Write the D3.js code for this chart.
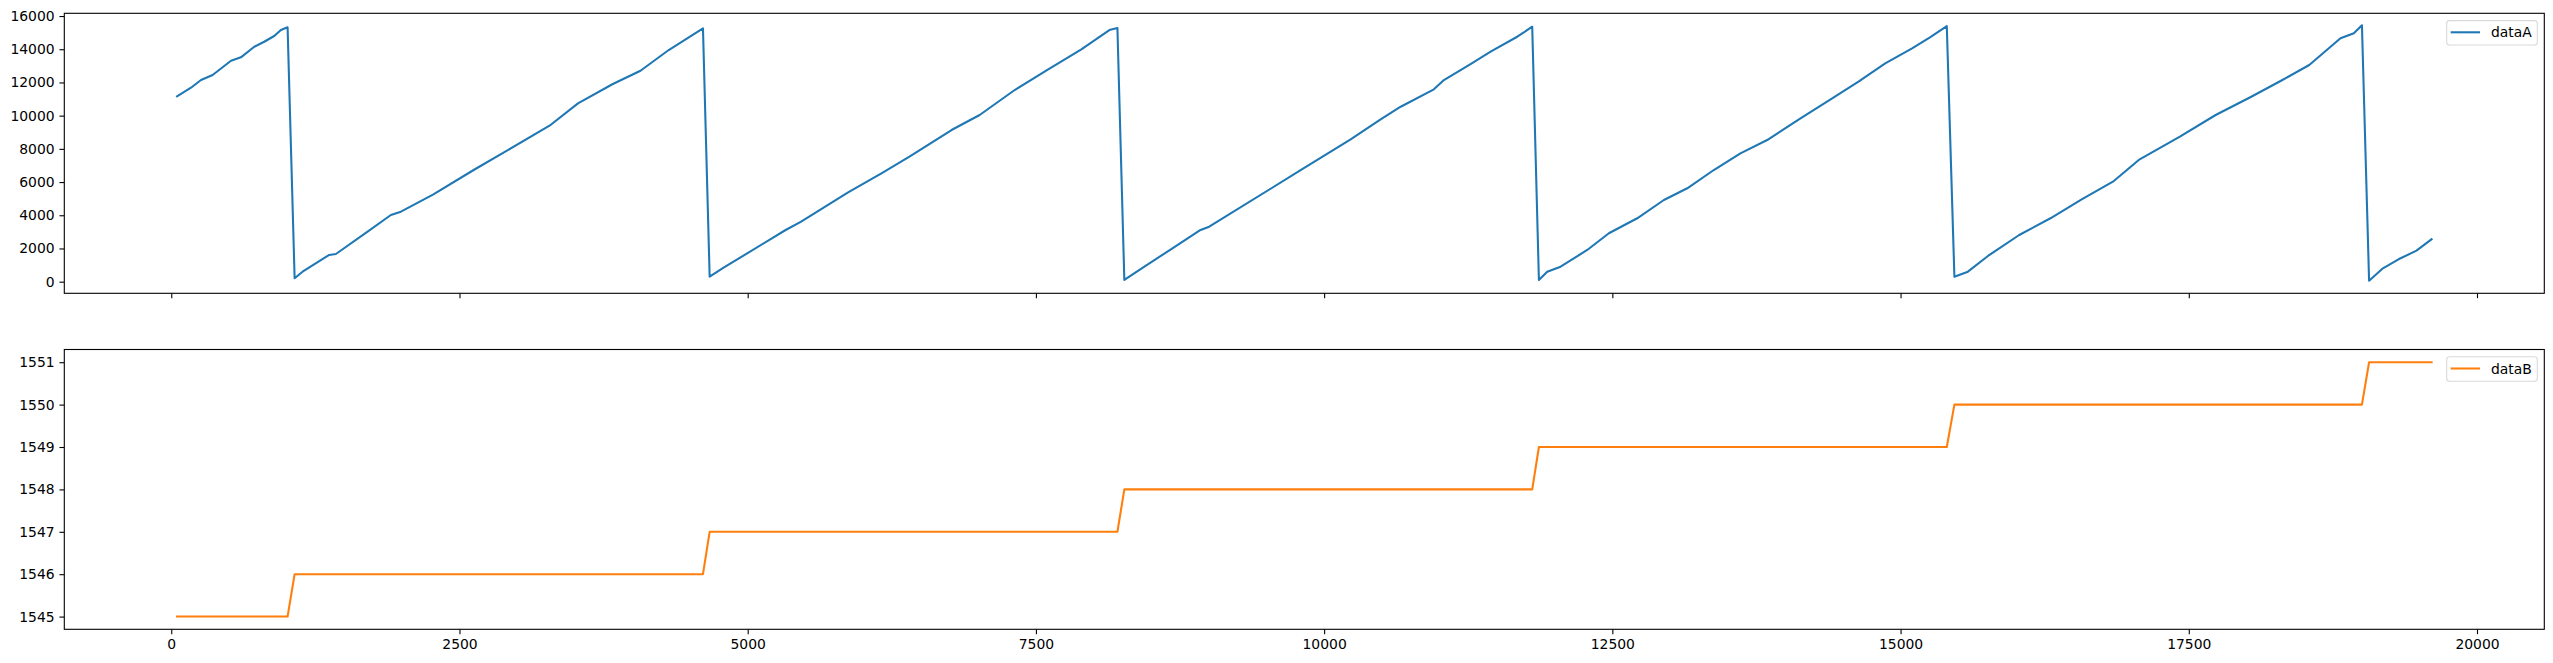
<!DOCTYPE html>
<html>
<head>
<meta charset="utf-8">
<script src="https://cdn.jsdelivr.net/npm/d3@7"></script>
<style>
  html, body { margin: 0; padding: 0; background: #fff; }
  svg { display: block; }
  text { font-family: "DejaVu Sans", sans-serif; }
</style>
</head>
<body>
<svg id="chart" width="2553" height="663"></svg>
<script>
// ---- data ----
const seriesNames = ["dataA", "dataB"];
const xA = [50, 171, 258, 359, 518, 604, 720, 806, 893, 951, 1009,
  1070, 1139, 1370, 1428, 1703, 1905, 1992, 2270, 2623, 2882, 3281, 3528, 3830, 4070, 4315, 4612,
  4670, 4791, 5329, 5460, 5871, 6160, 6403, 6768, 7012, 7316, 7589, 7894, 8137, 8207,
  8267, 8441, 8684, 8928, 9003, 9796, 10230, 10490, 10664, 10952, 11039, 11270, 11444, 11675, 11805,
  11863, 11935, 12051, 12282, 12470, 12716, 12947, 13150, 13380, 13611, 13843, 14132, 14383, 14635, 14867, 15100, 15255, 15401,
  15467, 15584, 15758, 16029, 16300, 16571, 16842, 17074, 17423, 17733, 18042, 18312, 18545, 18816, 18932, 19002,
  19064, 19184, 19319, 19475, 19606];
const yA = [11165, 11683, 12146, 12447, 13309, 13513, 14152, 14453, 14796, 15157, 15320,
  205, 602, 1608, 1668, 3011, 4017, 4215, 5239, 6726, 7769, 9394, 10743, 11906, 12706, 13953, 15260,
  301, 843, 3113, 3600, 5384, 6528, 7528, 9135, 10039, 11544, 12706, 13995, 15157, 15278,
  102, 903, 2011, 3113, 3312, 6714, 8575, 9780, 10538, 11586, 12146, 13110, 13851, 14754, 15356,
  102, 602, 903, 1909, 2915, 3818, 4920, 5625, 6726, 7732, 8533, 9840, 10942, 12044, 13152, 14055, 14718, 15398,
  301, 602, 1548, 2812, 3818, 4962, 6022, 7371, 8732, 10039, 11141, 12146, 13050, 14658, 14959, 15441,
  60, 807, 1349, 1867, 2553];
const xB = [50, 1009, 1070, 4612, 4670, 8207, 8267, 11805, 11863, 15401, 15467, 19002, 19064, 19606];
const yB = [1545, 1545, 1546, 1546, 1547, 1547, 1548, 1548, 1549, 1549, 1550, 1550, 1551, 1551];
const xTicks = [0, 2500, 5000, 7500, 10000, 12500, 15000, 17500, 20000];
const yTicksA = [0, 2000, 4000, 6000, 8000, 10000, 12000, 14000, 16000];
const yTicksB = [1545, 1546, 1547, 1548, 1549, 1550, 1551];
const colors = ["#1f77b4", "#ff7f0e"];

// ---- layout ----
const W = 2553, H = 663;
const left = 64.3, right = 2544.3;
const panels = [
  { top: 13.3, bottom: 293.3, xs: xA, ys: yA, ticks: yTicksA, yDomain: [-700, 16165], showX: false, name: seriesNames[0], color: colors[0] },
  { top: 349.5, bottom: 629.3, xs: xB, ys: yB, ticks: yTicksB, yDomain: [1544.7, 1551.3], showX: true, name: seriesNames[1], color: colors[1] }
];

const svg = d3.select("#chart");
const fs = 13.9;
const allX = xA.concat(xB);
const xmin = d3.min(allX), xmax = d3.max(allX), xr = xmax - xmin;
const x = d3.scaleLinear().domain([xmin - 0.05 * xr, xmax + 0.05 * xr]).range([left, right]);

panels.forEach(p => {
  const y = d3.scaleLinear().domain(p.yDomain).range([p.bottom, p.top]);
  const g = svg.append("g");

  // line
  const pts = p.xs.map((v, i) => [v, p.ys[i]]);
  g.append("path")
    .datum(pts)
    .attr("fill", "none")
    .attr("stroke", p.color)
    .attr("stroke-width", 2.08)
    .attr("stroke-linejoin", "round")
    .attr("stroke-linecap", "square")
    .attr("d", d3.line().x(d => x(d[0])).y(d => y(d[1])));

  // x axis
  const xAxis = d3.axisBottom(x).tickValues(xTicks).tickSize(4.86).tickPadding(4.86)
    .tickFormat(p.showX ? d3.format("d") : () => "");
  const gx = g.append("g").attr("transform", `translate(0,${p.bottom})`).call(xAxis);
  // y axis
  const yAxis = d3.axisLeft(y).tickValues(p.ticks).tickSize(4.86).tickPadding(4.86).tickFormat(d3.format("d"));
  const gy = g.append("g").attr("transform", `translate(${left},0)`).call(yAxis);
  [gx, gy].forEach(ax => {
    ax.select(".domain").remove();
    ax.selectAll(".tick line").attr("stroke", "#000").attr("stroke-width", 1.1);
    ax.selectAll(".tick text").attr("fill", "#000").style("font-size", fs + "px").style("font-family", "'DejaVu Sans', sans-serif");
  });

  // frame
  g.append("rect")
    .attr("x", left).attr("y", p.top)
    .attr("width", right - left).attr("height", p.bottom - p.top)
    .attr("fill", "none").attr("stroke", "#000").attr("stroke-width", 1.1);

  // legend
  const lx = 2446.7, ly = p.top + 7.3, lw = 90.6, lh = 24.4;
  const lg = g.append("g");
  lg.append("rect").attr("x", lx).attr("y", ly).attr("width", lw).attr("height", lh)
    .attr("rx", 2.8).attr("fill", "#fff").attr("fill-opacity", 0.8)
    .attr("stroke", "#d9d9d9").attr("stroke-width", 1.1);
  lg.append("line").attr("x1", lx + 4).attr("x2", lx + 33.3)
    .attr("y1", ly + lh / 2 - 0.5).attr("y2", ly + lh / 2 - 0.5)
    .attr("stroke", p.color).attr("stroke-width", 2.08);
  lg.append("text").attr("x", lx + 44.3).attr("y", ly + lh / 2 + 4.5)
    .attr("fill", "#000").style("font-size", fs + "px").text(p.name);
});
</script>
</body>
</html>
